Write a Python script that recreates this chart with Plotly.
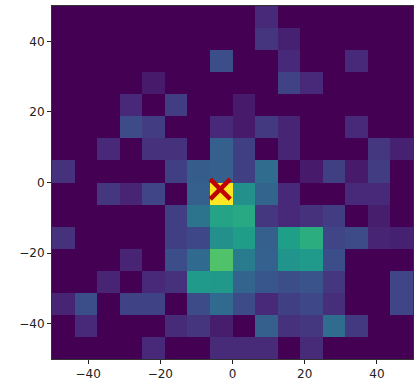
import numpy as np
import plotly.graph_objects as go

# 2D histogram: 16 x 16 bins over [-50, 50] on both axes
x_edges = np.linspace(-50, 50, 17)
y_edges = np.linspace(-50, 50, 17)
x_centers = (x_edges[:-1] + x_edges[1:]) / 2
y_centers = (y_edges[:-1] + y_edges[1:]) / 2

# bin counts, rows listed from the top (y = 50) down to the bottom (y = -50)
counts_top_down = [
    [0, 0, 0, 0, 0, 0, 0, 0, 0, 1.1, 0, 0, 0, 0, 0, 0],
    [0, 0, 0, 0, 0, 0, 0, 0, 0, 1.5, 0.9, 0, 0, 0, 0, 0],
    [0, 0, 0, 0, 0, 0, 0, 2.4, 0, 0, 1.1, 0, 0, 1.1, 0, 0],
    [0, 0, 0, 0, 0.7, 0, 0, 0, 0, 0, 2.0, 1.1, 0, 0, 0, 0],
    [0, 0, 0, 1.1, 0, 1.8, 0, 0, 0.7, 0, 0, 0, 0, 0, 0, 0],
    [0, 0, 0, 2.3, 1.8, 0, 0, 1.1, 0.7, 1.7, 1.0, 0, 0, 1.1, 0, 0],
    [0, 0, 1.1, 0, 1.4, 1.4, 0, 3.0, 1.9, 0, 1.0, 0, 0, 0, 1.6, 0.9],
    [1.4, 0, 0, 0, 0, 1.9, 2.9, 3.0, 1.9, 3.5, 0, 0.7, 1.9, 0.7, 1.8, 0],
    [0, 0, 1.6, 1.0, 2.1, 0, 3.0, 10.0, 5.0, 3.2, 1.1, 0, 0, 1.1, 1.1, 0],
    [0, 0, 0, 0, 0, 1.9, 3.8, 5.8, 6.0, 1.6, 1.1, 1.4, 1.8, 0, 0.8, 0],
    [1.4, 0, 0, 0, 0, 1.9, 2.2, 5.0, 5.5, 3.0, 5.6, 6.2, 2.1, 2.3, 1.0, 0.9],
    [0, 0, 0, 1.0, 0, 2.4, 3.4, 7.2, 4.2, 3.1, 5.2, 5.4, 2.4, 0, 0, 0],
    [0, 0, 1.0, 0, 1.1, 1.4, 5.4, 5.3, 3.2, 2.7, 2.4, 2.6, 1.6, 0, 0, 2.1],
    [1.0, 2.4, 0, 2.0, 2.0, 0, 2.3, 3.4, 2.3, 1.1, 1.9, 2.2, 1.3, 0, 0, 2.1],
    [0, 1.1, 0, 0, 0, 1.2, 1.5, 0.8, 0, 3.0, 1.4, 1.6, 3.5, 1.7, 0, 0],
    [0, 0, 0, 0, 1.1, 0, 0, 1.2, 1.2, 1.2, 0, 1.2, 0, 0, 0, 0],
]
counts = np.array(counts_top_down)[::-1]  # bottom row first for the y axis

# marked location
marker_x = [-3.4]
marker_y = [-1.9]

tick_vals = [-40, -20, 0, 20, 40]

fig = go.Figure()
fig.add_trace(go.Heatmap(
    x=x_centers, y=y_centers, z=counts,
    colorscale="Viridis", zmin=0, zmax=10,
    showscale=False, xgap=0, ygap=0,
))
fig.add_trace(go.Scatter(
    x=marker_x, y=marker_y, mode="markers",
    marker=dict(symbol="x-thin", size=20, color="#c00000",
                line=dict(width=4.5, color="#c00000")),
    showlegend=False,
))

axis_style = dict(
    range=[-50, 50], tickvals=tick_vals, ticks="outside", ticklen=4,
    tickwidth=1, tickcolor="#222", showgrid=False, zeroline=False,
    showline=True, linecolor="#333", linewidth=1, mirror=True,
    tickfont=dict(family="DejaVu Sans", size=12, color="#222"),
)
fig.update_xaxes(**axis_style)
fig.update_yaxes(**axis_style)
fig.update_layout(
    width=419, height=386,
    margin=dict(l=52, r=5, t=5, b=18),
    paper_bgcolor="white", plot_bgcolor="white",
)
fig.write_html("out.html")
